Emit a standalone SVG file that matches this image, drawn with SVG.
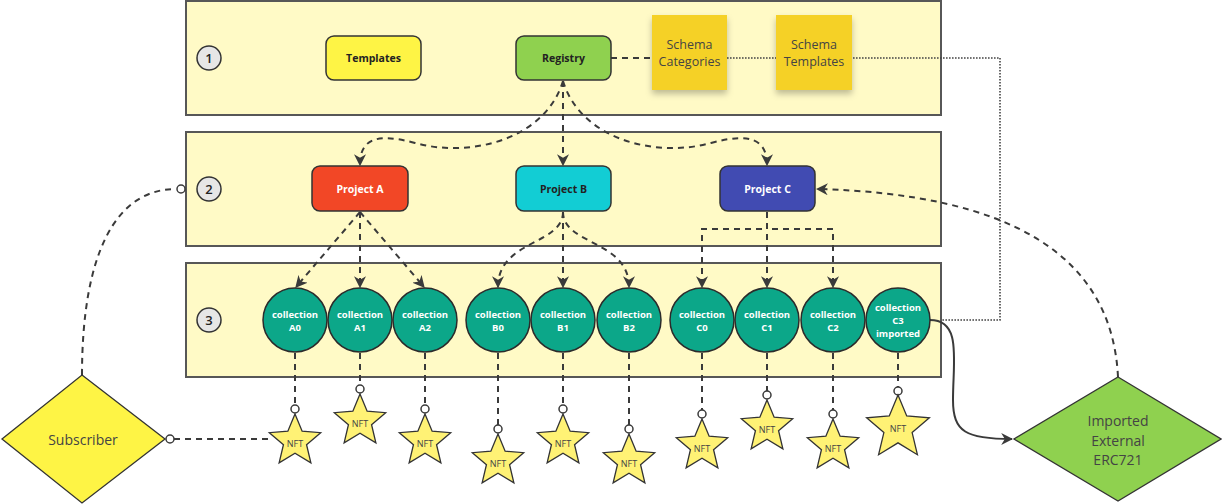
<svg xmlns="http://www.w3.org/2000/svg" width="1222" height="504" viewBox="0 0 1222 504">
<defs>
<style>
.band{fill:#fffac6;stroke:#575757;stroke-width:2}
.num{fill:#e6e6e6;stroke:#333;stroke-width:1.5}
.numt{font-family:"Open Sans","Noto Sans",sans-serif;font-size:13px;font-weight:600;fill:#222;text-anchor:middle;dominant-baseline:central}
.box{stroke:#333;stroke-width:1.5}
.bt{font-family:"Open Sans","Noto Sans",sans-serif;font-size:10.5px;font-weight:700;text-anchor:middle;dominant-baseline:central}
.coll{fill:#0ca789;stroke:#2b2b2b;stroke-width:1.5}
.ct{font-family:"Open Sans","Noto Sans",sans-serif;font-size:9.5px;font-weight:700;fill:#fff;text-anchor:middle;dominant-baseline:central}
.sticky{fill:#f5d128}
.st{font-family:"Open Sans","Noto Sans",sans-serif;font-size:12.5px;fill:#444;text-anchor:middle;dominant-baseline:central}
.star{fill:#fff275;stroke:#333;stroke-width:1.3}
.nt{font-family:"Open Sans","Noto Sans",sans-serif;font-size:9px;fill:#444;text-anchor:middle;dominant-baseline:central}
.dia{stroke:#333;stroke-width:1.3}
.dt{font-family:"Open Sans","Noto Sans",sans-serif;font-size:14px;fill:#444;text-anchor:middle;dominant-baseline:central}
.dash{fill:none;stroke:#3a3a3a;stroke-width:2;stroke-dasharray:6 5}
.dot{fill:none;stroke:#444;stroke-width:1.6;stroke-dasharray:1.6 1.4}
.solid{fill:none;stroke:#3a3a3a;stroke-width:2}
.oc{fill:#fff;stroke:#3a3a3a;stroke-width:1.5}
</style>
<marker id="arr" viewBox="0 0 10 10" refX="9" refY="5" markerWidth="6" markerHeight="6" orient="auto" markerUnits="strokeWidth">
<path d="M0,0 L10,5 L0,10 L3,5 Z" fill="#3a3a3a"/>
</marker>
<filter id="sh" x="-20%" y="-20%" width="140%" height="150%">
<feDropShadow dx="0" dy="4" stdDeviation="3" flood-color="#000" flood-opacity="0.25"/>
</filter>
<path id="s27" d="M0,-27 L7.14,-9.83 L25.68,-8.34 L11.56,3.76 L15.87,21.84 L0,12.15 L-15.87,21.84 L-11.56,3.76 L-25.68,-8.34 L-7.14,-9.83 Z"/>
<path id="s33" d="M0,-33 L8.73,-12.02 L31.39,-10.2 L14.13,4.59 L19.4,26.7 L0,14.85 L-19.4,26.7 L-14.13,4.59 L-31.39,-10.2 L-8.73,-12.02 Z"/>
</defs>

<g id="band1"><rect class="band" x="186" y="1" width="755" height="114"/><circle class="num" cx="209" cy="58" r="12"/><text class="numt" x="209" y="58">1</text></g>
<g id="band2"><rect class="band" x="186" y="132" width="755" height="114"/><circle class="num" cx="209" cy="189" r="12"/><text class="numt" x="209" y="189">2</text></g>
<g id="band3"><rect class="band" x="186" y="263" width="755" height="114"/><circle class="num" cx="209" cy="320" r="12"/><text class="numt" x="209" y="320">3</text></g>

<g id="connectors">
<line class="dash" x1="611" y1="58" x2="652" y2="58"/>
<line class="dot" x1="727" y1="58" x2="776" y2="58"/>
<path class="dot" d="M853,58 H1000 V320 H941"/>
<path class="dash" d="M563,81 C545,140 470,158 415,143 C375,132 360,140 360,165" marker-end="url(#arr)"/>
<path class="dash" d="M563,81 V165" marker-end="url(#arr)"/>
<path class="dash" d="M563,81 C581,140 656,158 711,143 C751,132 767,140 767,165" marker-end="url(#arr)"/>
<path class="dash" d="M360,212 L296,287" marker-end="url(#arr)"/>
<path class="dash" d="M360,212 V287" marker-end="url(#arr)"/>
<path class="dash" d="M360,212 L424,287" marker-end="url(#arr)"/>
<path class="dash" d="M563,212 C563,245 498,240 498,287" marker-end="url(#arr)"/>
<path class="dash" d="M563,212 V287" marker-end="url(#arr)"/>
<path class="dash" d="M563,212 C563,245 629,240 629,287" marker-end="url(#arr)"/>
<path class="dash" d="M767,212 V229 H702 V287" marker-end="url(#arr)"/>
<path class="dash" d="M767,212 V287" marker-end="url(#arr)"/>
<path class="dash" d="M767,212 V229 H833 V287" marker-end="url(#arr)"/>
<path class="dash" d="M1118,377 C1112,255 1010,194 817,189" marker-end="url(#arr)"/>
<path class="solid" d="M930,320 C962,320 953,360 953,400 C953,432 966,439 1012,439" marker-end="url(#arr)"/>
<path class="dash" d="M82,375 C82,255 115,189 176,189"/>
<circle class="oc" cx="181" cy="189" r="4"/>
<line class="dash" x1="174" y1="439" x2="271" y2="439"/>
<circle class="oc" cx="170" cy="439" r="4"/>
<line class="dash" x1="295" y1="353" x2="295" y2="405"/><circle class="oc" cx="295" cy="409" r="4"/>
<line class="dash" x1="360" y1="353" x2="360" y2="385"/><circle class="oc" cx="360" cy="389" r="4"/>
<line class="dash" x1="425" y1="353" x2="425" y2="405"/><circle class="oc" cx="425" cy="409" r="4"/>
<line class="dash" x1="498" y1="353" x2="498" y2="425"/><circle class="oc" cx="498" cy="429" r="4"/>
<line class="dash" x1="563" y1="353" x2="563" y2="405"/><circle class="oc" cx="563" cy="409" r="4"/>
<line class="dash" x1="629" y1="353" x2="629" y2="425"/><circle class="oc" cx="629" cy="429" r="4"/>
<line class="dash" x1="702" y1="353" x2="702" y2="410"/><circle class="oc" cx="702" cy="414" r="4"/>
<line class="dash" x1="767" y1="353" x2="767" y2="391"/><circle class="oc" cx="767" cy="395" r="4"/>
<line class="dash" x1="833" y1="353" x2="833" y2="410"/><circle class="oc" cx="833" cy="414" r="4"/>
<line class="dash" x1="898" y1="353" x2="898" y2="387"/><circle class="oc" cx="898" cy="391" r="4"/>
</g>

<g id="templates"><rect class="box" x="326" y="36" width="95" height="44" rx="8" fill="#fef445"/><text class="bt" x="373.5" y="58" fill="#222">Templates</text></g>
<g id="registry"><rect class="box" x="516" y="36" width="95" height="44" rx="8" fill="#8fd14f"/><text class="bt" x="563.5" y="58" fill="#222">Registry</text></g>
<g id="schema-categories"><rect class="sticky" x="652" y="15" width="75" height="75" filter="url(#sh)"/><text class="st" x="689.5" y="44">Schema</text><text class="st" x="689.5" y="61">Categories</text></g>
<g id="schema-templates"><rect class="sticky" x="776" y="15" width="76" height="75" filter="url(#sh)"/><text class="st" x="814" y="44">Schema</text><text class="st" x="814" y="61">Templates</text></g>

<g id="project-a"><rect class="box" x="312" y="166" width="96" height="45" rx="8" fill="#f24726"/><text class="bt" x="360" y="188.5" fill="#fff">Project A</text></g>
<g id="project-b"><rect class="box" x="516" y="166" width="95" height="45" rx="8" fill="#12cdd4"/><text class="bt" x="563.5" y="188.5" fill="#222">Project B</text></g>
<g id="project-c"><rect class="box" x="720" y="166" width="95" height="45" rx="8" fill="#414bb2"/><text class="bt" x="767.5" y="188.5" fill="#fff">Project C</text></g>

<g id="collection-a0"><circle class="coll" cx="295" cy="320" r="32"/><text class="ct" x="295" y="314">collection</text><text class="ct" x="295" y="327">A0</text></g>
<g id="collection-a1"><circle class="coll" cx="360" cy="320" r="32"/><text class="ct" x="360" y="314">collection</text><text class="ct" x="360" y="327">A1</text></g>
<g id="collection-a2"><circle class="coll" cx="425" cy="320" r="32"/><text class="ct" x="425" y="314">collection</text><text class="ct" x="425" y="327">A2</text></g>
<g id="collection-b0"><circle class="coll" cx="498" cy="320" r="32"/><text class="ct" x="498" y="314">collection</text><text class="ct" x="498" y="327">B0</text></g>
<g id="collection-b1"><circle class="coll" cx="563" cy="320" r="32"/><text class="ct" x="563" y="314">collection</text><text class="ct" x="563" y="327">B1</text></g>
<g id="collection-b2"><circle class="coll" cx="629" cy="320" r="32"/><text class="ct" x="629" y="314">collection</text><text class="ct" x="629" y="327">B2</text></g>
<g id="collection-c0"><circle class="coll" cx="702" cy="320" r="32"/><text class="ct" x="702" y="314">collection</text><text class="ct" x="702" y="327">C0</text></g>
<g id="collection-c1"><circle class="coll" cx="767" cy="320" r="32"/><text class="ct" x="767" y="314">collection</text><text class="ct" x="767" y="327">C1</text></g>
<g id="collection-c2"><circle class="coll" cx="833" cy="320" r="32"/><text class="ct" x="833" y="314">collection</text><text class="ct" x="833" y="327">C2</text></g>
<g id="collection-c3"><circle class="coll" cx="898" cy="320" r="32"/><text class="ct" x="898" y="307.5">collection</text><text class="ct" x="898" y="320.5">C3</text><text class="ct" x="898" y="333.5">imported</text></g>

<g id="nft-a0"><use href="#s27" class="star" x="295" y="441"/><text class="nt" x="295" y="443">NFT</text></g>
<g id="nft-a1"><use href="#s27" class="star" x="360" y="421"/><text class="nt" x="360" y="423">NFT</text></g>
<g id="nft-a2"><use href="#s27" class="star" x="425" y="441"/><text class="nt" x="425" y="443">NFT</text></g>
<g id="nft-b0"><use href="#s27" class="star" x="498" y="461"/><text class="nt" x="498" y="463">NFT</text></g>
<g id="nft-b1"><use href="#s27" class="star" x="563" y="441"/><text class="nt" x="563" y="443">NFT</text></g>
<g id="nft-b2"><use href="#s27" class="star" x="629" y="461"/><text class="nt" x="629" y="463">NFT</text></g>
<g id="nft-c0"><use href="#s27" class="star" x="702" y="446"/><text class="nt" x="702" y="448">NFT</text></g>
<g id="nft-c1"><use href="#s27" class="star" x="767" y="427"/><text class="nt" x="767" y="429">NFT</text></g>
<g id="nft-c2"><use href="#s27" class="star" x="833" y="446"/><text class="nt" x="833" y="448">NFT</text></g>
<g id="nft-c3"><use href="#s33" class="star" x="898" y="428"/><text class="nt" x="898" y="428">NFT</text></g>

<g id="subscriber"><polygon class="dia" points="82,375 165,439 82,503 2,439" fill="#fef445"/><text class="dt" x="83" y="439">Subscriber</text></g>
<g id="imported-external"><polygon class="dia" points="1118,377 1221,439 1118,501 1014,439" fill="#8fd14f"/><text class="dt" x="1118" y="420">Imported</text><text class="dt" x="1118" y="440">External</text><text class="dt" x="1118" y="459">ERC721</text></g>
</svg>
